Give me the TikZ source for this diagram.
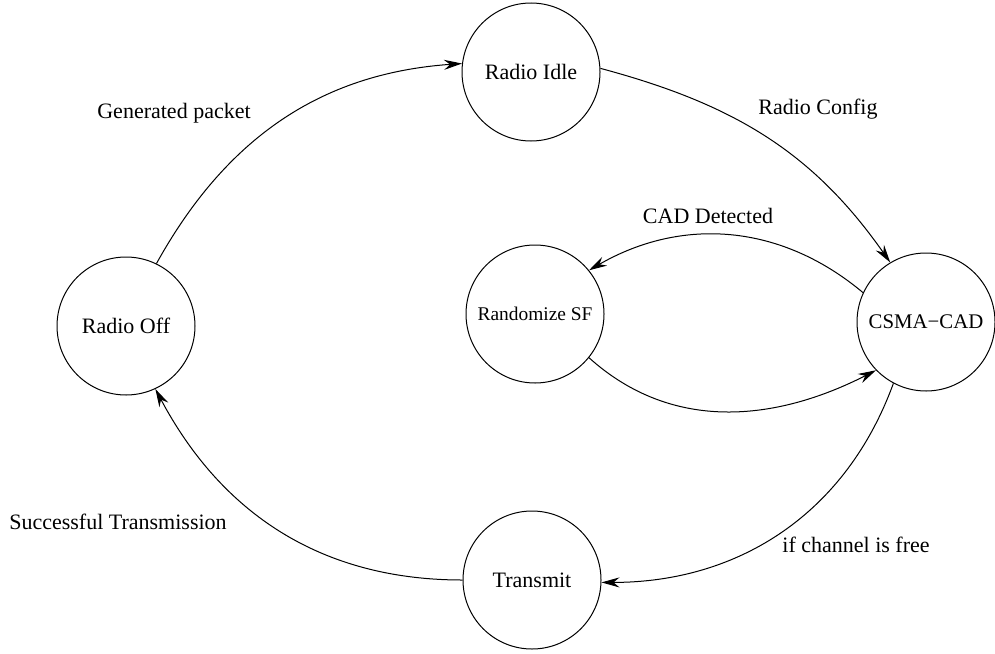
\documentclass[tikz,border=0pt]{standalone}
\usepackage{fontspec}
\setmainfont{Liberation Serif}
\usetikzlibrary{arrows,arrows.meta,positioning,calc}

\tikzset{
  state/.style={draw,circle,line width=0.5pt,minimum size=69pt,inner sep=0pt,font=\fontsize{11}{13}\selectfont},
  trans/.style={line width=0.5pt,-{Stealth[length=9pt,width=5pt,inset=3pt]}},
  lbl/.style={font=\fontsize{11}{13}\selectfont}
}

\begin{document}
\begin{tikzpicture}[x=0.5pt,y=-0.5pt]
\useasboundingbox (0,0) rectangle (995,653);
% draw states
\node[state] (idle) at (531,72) {Radio Idle};
\node[state] (off) at (126,326) {Radio Off};
\node[state,font=\fontsize{9.7}{11}\selectfont] (rand) at (535,314) {Randomize SF};
\node[state,font=\fontsize{10.4}{12}\selectfont] (csma) at (926,322) {CSMA−CAD};
\node[state] (tx) at (532,580) {Transmit};
% draw labels
\node[lbl] (lgen) at (174,113) {Generated packet};
\node[lbl] (lcfg) at (818,109) {Radio Config};
\node[lbl] (lcad) at (708,216) {CAD Detected};
\node[lbl] (lsucc) at (118,522) {Successful Transmission};
\node[lbl] (lfree) at (856,545) {if channel is free};
% draw transitions
\draw[trans] (off.64) to[out=61,in=184] (idle.173);
\draw[trans] (idle.3) to[out=-15,in=125] (csma.121);
\draw[trans] (csma.155) to[out=140,in=30] (rand.39);
\draw[trans] (rand.-39) to[out=-42,in=207] (csma.224);
\draw[trans] (csma.242) to[out=-110,in=0] (tx.-2);
\draw[trans] (tx.180) to[out=180,in=-62] (off.-65);
\end{tikzpicture}
\end{document}
